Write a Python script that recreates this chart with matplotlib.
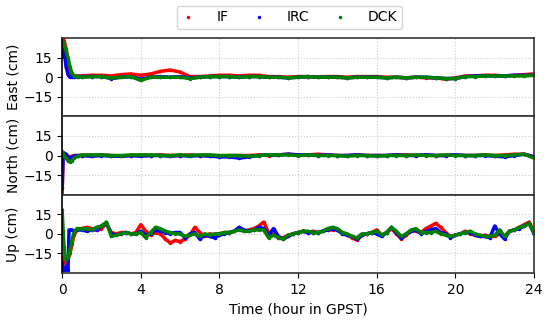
import numpy as np
import matplotlib
matplotlib.use("Agg")
import matplotlib.pyplot as plt
from matplotlib.lines import Line2D

# time grids (hours in GPST)
en_hours = [0, 0.05, 0.1, 0.2, 0.3, 0.4, 0.5, 0.6, 0.8] + list(np.arange(1.0, 24.01, 0.5))
up_hours = [0, 0.05, 0.1, 0.15, 0.2, 0.3, 0.35, 0.4, 0.5, 0.6] + list(np.arange(0.75, 24.01, 0.25))

labels = ['IF', 'IRC', 'DCK']
colors = ['red', 'blue', 'green']

# East (cm)
east_if = [24, 30, 28, 22, 12, 5, 2, 1, 1,
           1, 1.5, 1.5, 1, 2, 2.5, 1.5, 2.5, 4.5, 5.5, 4, 0.5, 0.5, 1, 1.5, 1.5,
           1, 1.5, 1.5, 0.5, 0.5, 0, 0.5, 0.5, 0, 0.5, 0.5, 0, 0.5, 0.5, 0.5, 0,
           0, -0.5, 0, -0.5, -0.5, -1.5, -0.5, 1, 1, 1.5, 1.5, 1, 1.5, 2, 2.5]
east_irc = [16, 22, 20, 8, 2, 0, 0, 0, 0.5,
            0.5, 0.5, 0.5, -1, 0, 0.5, -1.5, 0, 0.5, 0, 0.5, -0.5, 0, 0.5, 0.5, 0.5,
            0, 0.5, 0.5, 0, 0, -0.5, 0, 0.5, 0, 0, 0, -0.5, 0, 0, 0, -0.5,
            0, -0.5, 0, 0, -0.5, -1, -1, 0.5, 1, 1, 1, 1, 1.5, 1.5, 1.5]
east_dck = [28, 27, 25, 20, 15, 8, 3, 1, 0.5,
            0, 0.5, 0.5, -0.5, 0, 0.5, -2.5, 0, 0, 0, 0, -1, 0, 0.5, 0.5, 0.5,
            0, 0.5, 0.5, 0, 0, -0.5, 0, 0.5, 0, 0, 0, -0.5, 0, 0, 0, -0.5,
            0, -0.5, 0, 0, -0.5, -1, -1, 0.5, 0.5, 1, 1, 1, 1, 1, 1.5]

# North (cm)
north_if = [-30, 2, 1, 0, -1, -1, -0.5, 0, 0,
            0, 0, 0.5, 0, -0.5, 0, 0, 0, 0.5, 0, 0, 0.5, 0, 0, -0.5, 0,
            0, 0, 0.5, 0, 0.5, 1, 0.5, 0.5, 1, 0.5, 0, 0, 0.5, 0, 0, 0,
            0.5, 0.5, 0, 0.5, 0, 0, 0.5, 0, 0, 0.5, 0, 0.5, 1, 1, -1]
north_irc = [-25, 0, 2, 1, -1, -2, -1.5, -0.5, 0,
             0, -0.5, 0, -0.5, -0.5, 0, -0.5, 0, 0, -0.5, 0, -0.5, 0, -0.5, -1, -1,
             -2, -1, 0, 0.5, 0.5, 1, 0.5, 0.5, 0, 0.5, 0, 0, 0.5, 0, 0, 0,
             0.5, 0, 0, 0.5, 0, 0, 0.5, 0, 0, 0, -0.5, -1, 0, 1, -1]
north_dck = [3, 1, 0, -2, -4, -5, -4, -2, -0.5,
             0.5, 0.5, 0.5, 0, 0, 0.5, 0.5, 0.5, 0, 0, 0.5, 0, 0.5, 0.5, 0, 0,
             0, -0.5, 0, 0.5, 0.5, 0.5, 0, 0.5, 0, 0, 0, -0.5, 0, 0, -0.5, 0,
             0, 0, 0.5, 0, 0, 0.5, 0, 0, 0, 0.5, 0, 0, 0.5, 1, -2]

# Up (cm)
up_if = [-20, -18, -20, -22, -20, -18, -16, -15, -8, -1,
         3, 4, 5, 4, 3, 4, 8, 1, 0, 1, 1, 0, 1, 7, 2, -1, 1, 0, -4, -7,
         -5, -6, -4, -1, 5, 1, -2, 0, -1, 0, 1, 1, 2, 4, 2, 3, 4, 6, 9, 1,
         0, -3, -3, -1, 0, 1, 2, 1, 2, 1, 2, 3, 3, 3, 1, -1, -3, -5, -1, 0,
         1, 3, -1, 1, 4, 0, -4, -1, 2, 2, 1, 4, 6, 8, 5, 1, -2, -1, 0, 2,
         0, -1, -2, -1, -2, -2, 0, -2, 2, 3, 5, 7, 9, 2]
up_irc = [-22, -28, -26, -28, -25, -28, 3, 3, 3, 2,
          3, 3, 2, 3, 3, 6, 8, 0, -1, 0, 1, 0, 0, 2, -1, 0, 3, 2, 1, 0,
          1, 1, -3, 0, 1, -4, -1, -2, -3, -1, 0, 1, 2, 5, 3, 2, 3, 5, 4, -1,
          4, -2, -4, -2, 0, 1, 2, 1, 1, 1, 2, 3, 4, 3, 0, -1, -2, -4, -1, 0,
          1, 0, -2, 1, 5, 1, -3, 0, 2, 3, 0, 2, 3, 4, 1, 0, -3, -1, 0, 1,
          1, -1, -2, -2, -3, 6, 0, -4, 2, 3, 4, 6, 8, 0]
up_dck = [18, 2, -10, -18, -20, -18, -15, -12, -5, 1,
          4, 4, 4, 3, 5, 6, 9, -2, -1, 0, 1, 0, 0, 1, -3, 1, 5, 4, 2, 1,
          0, 0, -2, -1, 0, -2, 0, -1, 0, 0, 1, 1, 2, 3, 2, 2, 3, 3, 3, -3,
          -1, -3, -4, -1, 0, 1, 2, 2, 1, 1, 2, 4, 5, 4, 1, 0, -2, -3, 0, 0,
          1, 2, -1, 1, 5, 2, -2, 0, 3, 4, 1, 1, 1, 2, 0, -1, -2, -1, 0, 1,
          2, 0, -1, -2, -2, -1, 3, -2, 2, 3, 5, 6, 8, 1]

panels = [
    ('East (cm)', en_hours, [east_if, east_irc, east_dck]),
    ('North (cm)', en_hours, [north_if, north_irc, north_dck]),
    ('Up (cm)', up_hours, [up_if, up_irc, up_dck]),
]

fig, axes = plt.subplots(3, 1, figsize=(5.5, 3.2), dpi=100, sharex=True)
fig.subplots_adjust(left=0.113, right=0.971, top=0.881, bottom=0.147, hspace=0)

for ax, (ylab, hrs, series) in zip(axes, panels):
    for vals, c in zip(series, colors):
        ax.plot(hrs, vals, '-', color=c, lw=2.5, marker='.', markersize=3, zorder=2)
    ax.set_ylim(-30, 30)
    ax.set_yticks([-15, 0, 15])
    ax.set_xlim(0, 24)
    ax.set_xticks([0, 4, 8, 12, 16, 20, 24])
    ax.set_ylabel(ylab, fontsize=10, labelpad=2)
    ax.grid(True, linestyle=':', color='#cccccc', linewidth=0.8)
    ax.tick_params(labelsize=10)
    for s in ax.spines.values():
        s.set_linewidth(1.2)
        s.set_color('#333333')
    ax.spines['left'].set_color('black')

for ax in axes[:-1]:
    ax.tick_params(axis='x', length=0)
axes[-1].set_xlabel('Time (hour in GPST)', fontsize=10)

handles = [Line2D([], [], linestyle='none', marker='.', markersize=3, color=c) for c in colors]
fig.legend(handles, labels, loc='upper center', bbox_to_anchor=(0.526, 1.0), ncol=3,
           fontsize=10, handlelength=1, handletextpad=1.5, columnspacing=1.7,
           borderpad=0.35, borderaxespad=0.4, frameon=True, fancybox=True)

fig.savefig('out.png', dpi=100)
